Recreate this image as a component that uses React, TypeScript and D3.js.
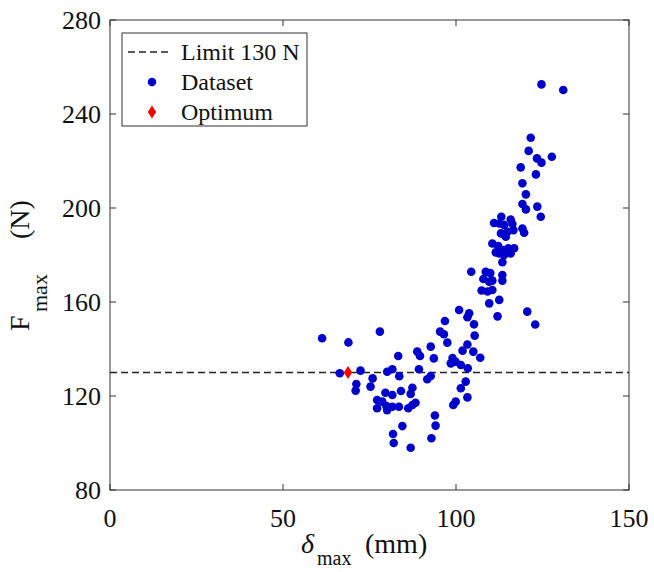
import React from "react";
import * as d3 from "d3";

// Dataset (delta_max in mm, F_max in N)
const deltaMax = [
  61.3, 78.0, 68.9, 83.3, 66.4, 72.4, 71.2, 71.0, 75.9, 75.3,
  80.1, 81.6, 83.6, 79.6, 81.6, 84.1, 87.4, 86.9, 77.2, 78.7,
  79.9, 77.2, 80.1, 81.6, 83.5, 86.2, 87.4, 88.3, 84.5, 81.8,
  82.0, 86.9, 93.9, 94.1, 92.9, 88.8, 89.6, 92.7, 93.6, 89.3,
  91.7, 92.7, 96.8, 95.4, 96.5, 97.5, 100.9, 103.8, 103.3, 105.2,
  105.4, 103.3, 101.9, 105.0, 107.0, 99.0, 98.5, 99.9, 101.4, 103.4,
  102.8, 101.4, 103.3, 99.9, 99.2,
  109.6, 112.0, 112.5, 120.6, 122.9, 104.4, 108.6, 109.9, 107.9, 109.6,
  110.5, 113.4, 113.4, 107.4, 109.1, 110.5, 113.4, 110.5, 112.2, 111.5,
  113.4, 115.1, 116.8, 113.9, 112.5, 115.8, 113.0, 114.4, 114.9, 111.0,
  112.5, 113.9, 115.8, 116.3, 116.6, 119.2, 119.7, 119.2, 120.2, 123.5,
  124.5, 113.1, 118.7, 123.1, 119.2, 120.2, 123.4, 124.7, 127.7, 121.0,
  121.6, 124.7, 131.0,
];
const forceMax = [
  144.6, 147.4, 142.8, 137.0, 129.7, 130.8, 125.1, 122.3, 127.5, 124.0,
  130.3, 131.4, 128.4, 121.4, 120.4, 122.1, 123.5, 120.9, 118.3, 117.6,
  115.7, 114.8, 114.0, 115.4, 115.4, 114.8, 116.2, 117.1, 107.2, 103.8,
  100.0, 98.0, 111.7, 107.4, 102.0, 138.9, 137.0, 141.0, 136.0, 131.4,
  127.1, 128.5, 151.9, 147.4, 146.3, 142.7, 156.6, 155.2, 153.5, 150.5,
  145.7, 141.9, 139.3, 138.9, 136.3, 136.2, 133.9, 134.6, 133.2, 131.8,
  126.1, 123.3, 119.4, 117.6, 116.2,
  159.4, 153.9, 160.9, 155.9, 150.4, 172.9, 172.9, 172.3, 169.8, 168.6,
  169.1, 171.5, 169.1, 164.9, 164.5, 165.1, 176.9, 184.9, 183.8, 181.1,
  182.1, 182.9, 182.9, 180.0, 180.7, 180.7, 189.2, 187.8, 189.9, 193.6,
  193.4, 192.8, 195.1, 193.2, 190.6, 191.3, 189.5, 201.7, 199.4, 200.6,
  196.3, 196.3, 217.3, 214.3, 210.5, 205.8, 221.1, 219.3, 221.8, 224.3,
  229.9, 252.6, 250.2,
];
const optimumDelta = [68.8];
const optimumForce = [130];
const limitForce = 130;
const xTicks = [0, 50, 100, 150];
const yTicks = [80, 120, 160, 200, 240, 280];
const legendLabels = ["Limit 130 N", "Dataset", "Optimum"];

const FONT = "Liberation Serif, Times New Roman, serif";
const BLUE = "#0000cd";
const RED = "#ff0000";
const AXIS = "#333333";

export default function App() {
  const W = 654;
  const H = 572;
  const left = 110, right = 629, top = 20, bottom = 490;
  const x = d3.scaleLinear().domain([0, 150]).range([left, right]);
  const y = d3.scaleLinear().domain([80, 280]).range([bottom, top]);
  const diamondPath = "M0,-6.5L4.2,0L0,6.5L-4.2,0Z";
  const tickLen = 6;

  const legX = 122, legY = 33, legW = 185, legH = 93;
  const rowY = [52, 82, 112];

  return (
    <svg
      width={W}
      height={H}
      style={{ position: "absolute", left: 0, top: 0, background: "#fff", fontFamily: FONT }}
    >
      <rect x={0} y={0} width={W} height={H} fill="#fff" />
      {/* limit line */}
      <line
        x1={x(0)}
        x2={x(150)}
        y1={y(limitForce)}
        y2={y(limitForce)}
        stroke="#222"
        strokeWidth={1.3}
        strokeDasharray="7,4"
      />
      {/* dataset */}
      {deltaMax.map((d, i) => (
        <circle key={i} cx={x(d)} cy={y(forceMax[i])} r={4.3} fill={BLUE} />
      ))}
      {/* optimum */}
      {optimumDelta.map((d, i) => (
        <path
          key={"o" + i}
          d={diamondPath}
          transform={`translate(${x(d)},${y(optimumForce[i])})`}
          fill={RED}
        />
      ))}
      {/* axes box */}
      <rect
        x={left}
        y={top}
        width={right - left}
        height={bottom - top}
        fill="none"
        stroke={AXIS}
        strokeWidth={1}
      />
      {xTicks.map((t) => (
        <g key={"xt" + t}>
          <line x1={x(t)} x2={x(t)} y1={bottom} y2={bottom - tickLen} stroke={AXIS} />
          <line x1={x(t)} x2={x(t)} y1={top} y2={top + tickLen} stroke={AXIS} />
          <text x={x(t)} y={527} fontSize={26} textAnchor="middle" fill="#111">
            {t}
          </text>
        </g>
      ))}
      {yTicks.map((t) => (
        <g key={"yt" + t}>
          <line x1={left} x2={left + tickLen} y1={y(t)} y2={y(t)} stroke={AXIS} />
          <line x1={right} x2={right - tickLen} y1={y(t)} y2={y(t)} stroke={AXIS} />
          <text x={101} y={y(t) + 9} fontSize={26} textAnchor="end" fill="#111">
            {t}
          </text>
        </g>
      ))}
      {/* x label */}
      <text y={553} fontSize={28} fill="#111">
        <tspan x={301} fontStyle="italic">δ</tspan>
        <tspan x={317} y={565} fontSize={20}>max</tspan>
        <tspan x={365} y={553}>(mm)</tspan>
      </text>
      {/* y label */}
      <g transform="translate(29,331) rotate(-90)">
        <text x={0} y={0} fontSize={28} fill="#111">
          <tspan x={0} y={0}>F</tspan>
          <tspan x={19} y={18} fontSize={22}>max</tspan>
          <tspan x={92} y={0}>(N)</tspan>
        </text>
      </g>
      {/* legend */}
      <rect x={legX} y={legY} width={legW} height={legH} fill="#fff" stroke={AXIS} strokeWidth={1} />
      <line x1={128} x2={172} y1={rowY[0]} y2={rowY[0]} stroke="#222" strokeWidth={1.3} strokeDasharray="7,4" />
      <circle cx={152} cy={rowY[1]} r={4.3} fill={BLUE} />
      <path d={diamondPath} transform={`translate(152,${rowY[2]})`} fill={RED} />
      {legendLabels.map((l, i) => (
        <text key={l} x={181} y={rowY[i] + 8} fontSize={24} fill="#111">
          {l}
        </text>
      ))}
    </svg>
  );
}
